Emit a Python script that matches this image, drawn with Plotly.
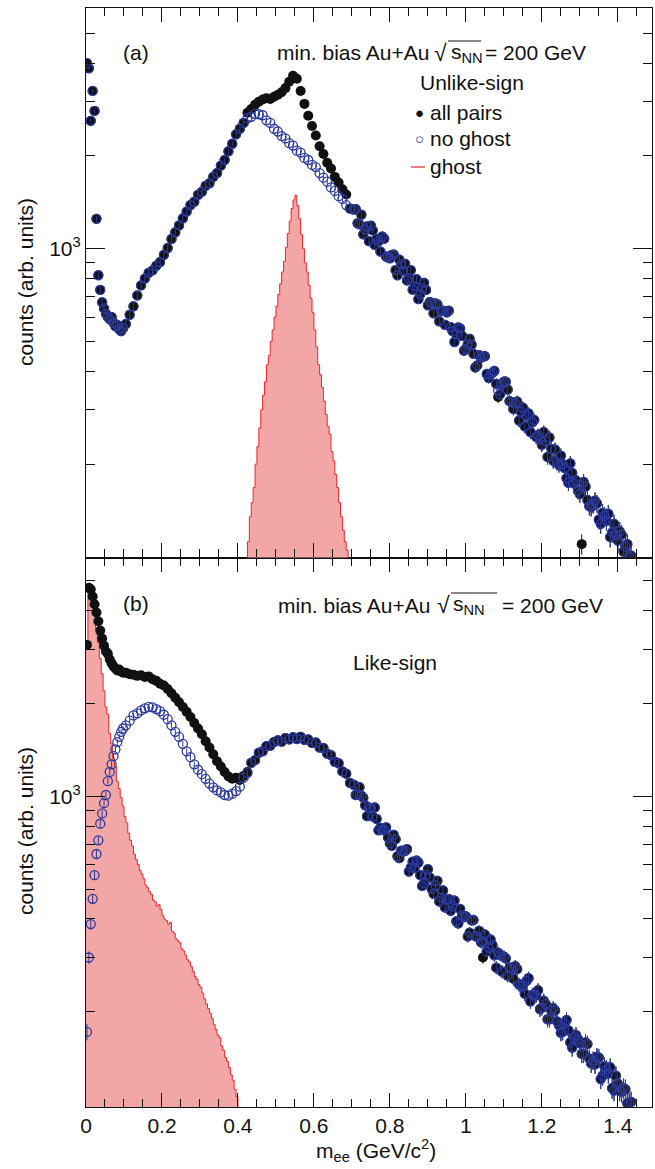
import numpy as np
import plotly.graph_objects as go

# ---------------- data ----------------
# mass bin centres (GeV/c^2): fine bins below 0.1, 10 MeV bins above
mass_low = [0.0025, 0.0075, 0.0125, 0.0175, 0.0225, 0.0275, 0.0325, 0.0375, 0.0425, 0.0475,
            0.0525, 0.0575, 0.0625, 0.0675, 0.0725, 0.0775, 0.0825, 0.0875, 0.0925, 0.0975]
mass_high = [round(0.105 + 0.01 * i, 3) for i in range(134)]
mass = mass_low + mass_high
# interleaved high-mass points (ghost-free region: all pairs == no ghost)
mass_tail2 = [round(0.71 + 0.01 * i, 3) for i in range(73)]

# (a) unlike-sign, no ghost
unlike_noghost = [
    4000, 3850, 2600, 3250, 2800, 1250, 820, 735, 670, 640,
    615, 600, 590, 600, 575, 560, 565, 548, 540, 552,
    570, 610, 650, 705, 760, 800, 835, 850, 880, 905,
    955, 1005, 1075, 1130, 1190, 1255, 1320, 1385, 1420, 1495,
    1530, 1600, 1630, 1710, 1760, 1860, 1940, 2070, 2190, 2350,
    2450, 2560, 2650, 2680, 2740, 2730, 2710, 2610, 2560, 2450,
    2400, 2320, 2280, 2200, 2160, 2080, 2050, 1970, 1940, 1870,
    1840, 1760, 1700, 1650, 1580, 1540, 1480, 1450, 1385, 1350,
    1339, 1209, 1289, 1154, 1058, 1146, 1075, 979, 1078, 937,
    954, 852, 921, 849, 789, 852, 756, 686, 745, 735,
    671, 617, 660, 627, 566, 629, 540, 527, 551, 467,
    490, 488, 412, 451, 448, 392, 391, 401, 347, 363,
    370, 320, 302, 319, 296, 265, 292, 273, 245, 241,
    254, 211, 224, 223, 199, 200, 180, 201, 173, 164,
    170, 169, 146, 148, 149, 128, 136, 138, 120, 118,
    121, 104, 110, 101]

# (a) unlike-sign, all pairs
unlike_all = [
    4000, 3850, 2600, 3250, 2800, 1250, 820, 735, 670, 640,
    615, 600, 590, 600, 575, 560, 565, 548, 540, 552,
    570, 610, 650, 705, 760, 800, 835, 850, 880, 905,
    955, 1005, 1075, 1130, 1190, 1255, 1320, 1385, 1420, 1495,
    1530, 1600, 1630, 1710, 1760, 1860, 1940, 2070, 2190, 2350,
    2450, 2560, 2760, 2840, 2930, 3000, 3050, 3080, 3060, 3110,
    3160, 3220, 3320, 3480, 3640, 3560, 3250, 2950, 2700, 2500,
    2330, 2150, 2030, 1900, 1820, 1710, 1640, 1560, 1500, 1350,
    1339, 1209, 1289, 1154, 1058, 1146, 1075, 979, 1078, 937,
    954, 852, 921, 849, 789, 852, 756, 686, 745, 735,
    671, 617, 660, 627, 566, 629, 540, 527, 551, 467,
    490, 488, 412, 451, 448, 392, 391, 401, 330, 363,
    370, 320, 302, 319, 296, 265, 292, 273, 245, 241,
    254, 211, 224, 223, 199, 200, 180, 201, 173, 164,
    110, 169, 146, 148, 149, 128, 136, 138, 120, 118,
    121, 104, 110, 101]

# (a) interleaved high-mass points 0.71 ... 1.43
unlike_tail2 = [
    1344, 1200, 1113, 1181, 1187, 1029, 1057, 1095, 943, 931,
    957, 820, 889, 893, 801, 736, 796, 712, 775, 655,
    667, 664, 581, 629, 621, 556, 498, 555, 521, 473,
    510, 456, 418, 443, 448, 381, 396, 364, 337, 370,
    349, 318, 315, 277, 305, 288, 254, 278, 248, 231,
    238, 244, 205, 202, 213, 194, 174, 187, 177, 160,
    175, 153, 145, 152, 132, 139, 131, 116, 128, 113,
    118, 108, 100]

# (a) unlike-sign ghost histogram, 5 MeV bins (left edges 0.420 ... 0.690)
ghost_a_edges = [round(0.420 + 0.005 * i, 3) for i in range(55)]
ghost_a = [1,
           112, 135, 150, 168, 200, 228, 262, 300, 335, 370,
           420, 450, 500, 545, 600, 650, 710, 770, 840, 910,
           1010, 1120, 1230, 1350, 1440, 1490, 1380, 1250, 1110, 1000,
           900, 840, 760, 690, 620, 545, 480, 420, 390, 355,
           320, 290, 265, 250, 220, 205, 185, 168, 150, 135,
           122, 112, 105,
           1]

# (b) like-sign, no ghost
like_noghost = [
    172, 300, 385, 465, 555, 650, 720, 815, 880, 950,
    1010, 1120, 1200, 1270, 1350, 1420, 1500, 1560, 1620, 1660,
    1700, 1760, 1830, 1860, 1900, 1930, 1950, 1945, 1920, 1890,
    1840, 1780, 1700, 1620, 1560, 1480, 1400, 1340, 1270, 1220,
    1180, 1140, 1100, 1070, 1045, 1030, 1010, 1005, 1020, 1040,
    1075, 1150, 1190, 1285, 1310, 1385, 1400, 1455, 1460, 1500,
    1520, 1505, 1545, 1530, 1555, 1535, 1560, 1525, 1530, 1490,
    1495, 1440, 1435, 1375, 1360, 1295, 1280, 1205, 1185, 1105,
    1090, 1015, 1005, 935, 920, 860, 845, 790, 780, 735,
    691, 726, 630, 662, 674, 587, 587, 610, 512, 557,
    545, 483, 532, 468, 436, 464, 440, 393, 431, 406,
    351, 396, 352, 366, 338, 314, 343, 305, 311, 270,
    298, 278, 256, 275, 243, 229, 257, 227, 226, 204,
    217, 189, 202, 202, 181, 172, 188, 159, 165, 163,
    146, 159, 141, 139, 143, 121, 133, 126, 113, 124,
    111, 113, 101, 102]

# (b) like-sign, all pairs
like_all = [
    3100, 4750, 4700, 4450, 4200, 3950, 3700, 3450, 3250, 3080,
    2950, 2900, 2780, 2700, 2640, 2600, 2560, 2580, 2540, 2520,
    2520, 2490, 2480, 2460, 2470, 2440, 2450, 2400, 2370, 2320,
    2290, 2230, 2160, 2090, 2020, 1950, 1880, 1810, 1730, 1660,
    1590, 1510, 1440, 1370, 1300, 1250, 1200, 1160, 1140, 1150,
    1130, 1165, 1200, 1285, 1310, 1385, 1400, 1455, 1460, 1500,
    1520, 1505, 1545, 1530, 1555, 1535, 1560, 1525, 1530, 1490,
    1495, 1440, 1435, 1375, 1360, 1295, 1280, 1205, 1185, 1105,
    1090, 1015, 1005, 935, 920, 860, 845, 790, 780, 735,
    691, 726, 630, 662, 674, 587, 587, 610, 512, 557,
    545, 483, 532, 468, 436, 464, 440, 393, 431, 406,
    351, 396, 352, 366, 300, 314, 343, 305, 311, 270,
    298, 278, 256, 275, 243, 229, 257, 227, 226, 204,
    217, 189, 202, 202, 181, 172, 188, 159, 165, 163,
    146, 159, 141, 139, 143, 121, 133, 126, 113, 124,
    111, 113, 101, 102]

# (b) interleaved high-mass points 0.71 ... 1.43
like_tail2 = [
    1010, 1071, 989, 862, 914, 920, 776, 777, 793, 704,
    750, 639, 666, 665, 570, 614, 619, 555, 522, 580,
    501, 515, 456, 495, 462, 425, 459, 387, 412, 408,
    361, 397, 350, 336, 356, 323, 329, 278, 306, 302,
    262, 276, 281, 245, 242, 252, 216, 227, 235, 206,
    212, 189, 205, 186, 171, 183, 174, 153, 168, 158,
    146, 157, 136, 135, 142, 124, 130, 132, 111, 117,
    110, 112, 101]

# (b) like-sign ghost histogram, 5 MeV bins (left edges 0.000 ... 0.400)
ghost_b_edges = [round(0.005 * i, 3) for i in range(81)]
ghost_b = [3000, 4800, 4650, 4300, 3900, 3500, 3150, 2800, 2500, 2200,
           1950, 1850, 1600, 1480, 1330, 1250, 1120, 1060, 990, 930,
           860, 820, 760, 720, 690, 650, 625, 600, 575, 560,
           540, 515, 505, 490, 480, 460, 455, 440, 445, 430,
           410, 400, 395, 385, 390, 365, 360, 345, 340, 335,
           320, 315, 305, 295, 290, 280, 270, 260, 255, 245,
           240, 230, 220, 212, 205, 198, 190, 182, 175, 168,
           165, 155, 150, 142, 138, 132, 125, 120, 112, 106,
           1]

x_ticks = [0, 0.2, 0.4, 0.6, 0.8, 1.0, 1.2, 1.4]
x_ticktext = ["0", "0.2", "0.4", "0.6", "0.8", "1", "1.2", "1.4"]
y_major = [1000]
y_major_text = ["10<sup>3</sup>"]
y_minor = [200, 300, 400, 500, 600, 700, 800, 900, 2000, 3000, 4000, 5000, 6000]

# ---------------- style ----------------
BLACK = "#111111"
BLUE = "#2b3a9c"
RED = "#e8262b"
PINK = "#f2a6a6"
FONT = "Liberation Sans, Arial, Helvetica, sans-serif"


def stat_err(v):
    return (0.8 * np.sqrt(np.array(v, dtype=float))).tolist()


fig = go.Figure()


def add_panel(xa, ya, edges, ghost, allp, nog, tail):
    xs = mass + mass_tail2
    ya_all = allp + tail
    ya_nog = nog + tail
    fig.add_trace(go.Scatter(x=edges, y=ghost, mode="lines", line=dict(color=RED, width=1, shape="hv"),
                             fill="tozeroy", fillcolor=PINK, xaxis=xa, yaxis=ya, hoverinfo="skip"))
    fig.add_trace(go.Scatter(x=xs, y=ya_all, mode="markers", xaxis=xa, yaxis=ya,
                             marker=dict(symbol="circle", size=10, color=BLACK, line=dict(width=0)),
                             error_y=dict(type="data", array=stat_err(ya_all), width=0, thickness=1, color=BLACK)))
    fig.add_trace(go.Scatter(x=xs, y=ya_nog, mode="markers", xaxis=xa, yaxis=ya,
                             marker=dict(symbol="circle-open", size=9, color=BLUE, line=dict(width=1.3, color=BLUE)),
                             error_y=dict(type="data", array=stat_err(ya_nog), width=0, thickness=1, color=BLUE)))


add_panel("x2", "y2", ghost_a_edges, ghost_a, unlike_all, unlike_noghost, unlike_tail2)
add_panel("x", "y", ghost_b_edges, ghost_b, like_all, like_noghost, like_tail2)

xcommon = dict(range=[0, 1.49], tickmode="array", tickvals=x_ticks, ticktext=x_ticktext,
               ticks="inside", ticklen=14, tickwidth=1.2, tickcolor=BLACK,
               showline=True, linecolor=BLACK, linewidth=1.2, mirror="allticks",
               showgrid=False, zeroline=False,
               minor=dict(dtick=0.05, tick0=0, ticks="inside", ticklen=8, tickwidth=1.2, tickcolor=BLACK, showgrid=False))
ycommon = dict(type="log", tickmode="array", tickvals=y_major, ticktext=y_major_text,
               ticks="inside", ticklen=19, tickwidth=1.2, tickcolor=BLACK,
               showline=True, linecolor=BLACK, linewidth=1.2, mirror="allticks",
               showgrid=False, zeroline=False,
               minor=dict(tickmode="array", tickvals=y_minor, ticks="inside", ticklen=9, tickwidth=1.2,
                          tickcolor=BLACK, showgrid=False))

fig.update_layout(
    width=655, height=1169,
    margin=dict(l=86, r=3, t=8, b=62),
    plot_bgcolor="white", paper_bgcolor="white",
    showlegend=False,
    font=dict(family=FONT, size=21, color=BLACK),
    xaxis=dict(**xcommon, anchor="y", domain=[0, 1]),
    xaxis2=dict(**xcommon, anchor="y2", domain=[0, 1], matches="x", showticklabels=False),
    yaxis=dict(**ycommon, domain=[0, 0.5], range=[1.992, 3.775], anchor="x"),
    yaxis2=dict(**ycommon, domain=[0.5, 1], range=[1.998, 3.781], anchor="x2"),
)


# text placement helpers (pixel -> paper)
def px(x):
    return (x - 86) / 566.0


def py(y):
    return (1107 - y) / 1099.0


ann = []


def text(t, x, y, xanchor="left", size=21, color=BLACK, angle=0):
    ann.append(dict(text=t, x=px(x), y=py(y), xref="paper", yref="paper", xanchor=xanchor,
                    yanchor="middle", showarrow=False, textangle=angle,
                    font=dict(family=FONT, size=size, color=color)))


# panel (a)
text("(a)", 121, 52)
text("min. bias Au+Au", 431, 53, xanchor="right")
text("√", 432, 53, size=23)
text("s<sub>NN</sub>", 449, 53)
text("= 200 GeV", 483, 53)
text("Unlike-sign", 418, 82)
text("●", 419, 112, xanchor="center", size=15)
text("all pairs", 428, 112)
text("○", 419, 139, xanchor="center", size=15, color=BLUE)
text("no ghost", 428, 139)
text("ghost", 428, 167)
# panel (b)
text("(b)", 121, 604)
text("min. bias Au+Au", 432, 605, xanchor="right")
text("√", 435, 605, size=23)
text("s<sub>NN</sub>", 451, 605)
text("= 200 GeV", 500, 605)
text("Like-sign", 395, 662, xanchor="center")
# axis titles
text("counts (arb. units)", 25, 282, xanchor="center", angle=-90)
text("counts (arb. units)", 25, 831, xanchor="center", angle=-90)
text("m<sub>ee</sub> (GeV/c<sup>2</sup>)", 376, 1151, xanchor="center")

fig.update_layout(annotations=ann)

shapes = [
    dict(type="line", xref="paper", yref="paper", x0=px(448), x1=px(481), y0=py(41), y1=py(41),
         line=dict(color=BLACK, width=1.2)),
    dict(type="line", xref="paper", yref="paper", x0=px(451), x1=px(497), y0=py(593), y1=py(593),
         line=dict(color=BLACK, width=1.2)),
    dict(type="line", xref="paper", yref="paper", x0=px(411), x1=px(425), y0=py(167), y1=py(167),
         line=dict(color=RED, width=1.2)),
]
fig.update_layout(shapes=shapes)

fig.write_html("out.html")
